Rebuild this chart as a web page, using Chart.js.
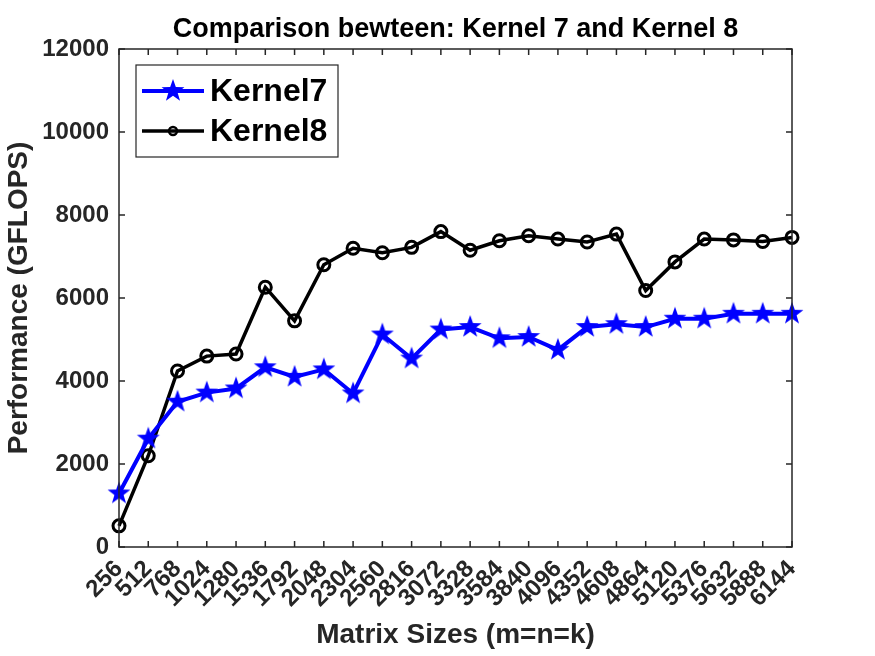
<!DOCTYPE html>
<html>
<head>
<meta charset="utf-8">
<title>Kernel 7 vs Kernel 8</title>
<script src="https://cdn.jsdelivr.net/npm/chart.js@4"></script>
<style>
  html, body { margin: 0; padding: 0; background: #fff; }
  #wrap { width: 875px; height: 656px; }
</style>
</head>
<body>
<div id="wrap"><canvas id="perfChart" width="875" height="656"></canvas></div>
<script>
// Data
const matrixSizes = ['256', '512', '768', '1024', '1280', '1536', '1792', '2048', '2304', '2560', '2816', '3072',
    '3328', '3584', '3840', '4096', '4352', '4608', '4864', '5120', '5376', '5632', '5888', '6144'];
const kernel7 = [1290, 2610, 3500, 3720, 3820, 4330, 4100, 4280, 3700, 5120, 4540, 5240,
    5300, 5030, 5060, 4750, 5300, 5370, 5300, 5500, 5500, 5620, 5620, 5620];
const kernel8 = [510, 2200, 4240, 4600, 4650, 6260, 5450, 6800, 7200, 7090, 7220, 7600,
    7150, 7380, 7500, 7420, 7350, 7540, 6180, 6870, 7420, 7400, 7360, 7460];
const yTicks = [0, 2000, 4000, 6000, 8000, 10000, 12000];
const chartTitle = 'Comparison bewteen: Kernel 7 and Kernel 8';

const FONT = '"Liberation Sans", Arial, Helvetica, sans-serif';
const AXIS_COLOR = '#262626';

// filled five-point star, like the MATLAB pentagram marker
function makeStar(radius, color) {
    const size = Math.ceil(radius * 2 + 2);
    const c = document.createElement('canvas');
    c.width = size;
    c.height = size;
    const g = c.getContext('2d');
    const cx = size / 2, cy = size / 2;
    const inner = radius * 0.4;
    g.beginPath();
    for (let i = 0; i < 10; i++) {
        const r = i % 2 === 0 ? radius : inner;
        const a = -Math.PI / 2 + i * Math.PI / 5;
        const px = cx + r * Math.cos(a);
        const py = cy + r * Math.sin(a);
        if (i === 0) g.moveTo(px, py); else g.lineTo(px, py);
    }
    g.closePath();
    g.fillStyle = color;
    g.fill();
    return c;
}
const starImg = makeStar(12, '#0000ff');

// Box around the plot with inward ticks on all four sides, title centred on the plot
const boxPlugin = {
    id: 'boxPlugin',
    afterDraw(chart) {
        const { ctx, chartArea: a, scales } = chart;
        ctx.save();
        ctx.strokeStyle = AXIS_COLOR;
        ctx.lineWidth = 1.5;
        ctx.strokeRect(a.left, a.top, a.right - a.left, a.bottom - a.top);
        ctx.beginPath();
        const tl = 6;
        scales.x.ticks.forEach((t, i) => {
            const px = scales.x.getPixelForTick(i);
            ctx.moveTo(px, a.bottom); ctx.lineTo(px, a.bottom - tl);
            ctx.moveTo(px, a.top); ctx.lineTo(px, a.top + tl);
        });
        scales.y.ticks.forEach((t, i) => {
            const py = scales.y.getPixelForTick(i);
            ctx.moveTo(a.left, py); ctx.lineTo(a.left + tl, py);
            ctx.moveTo(a.right, py); ctx.lineTo(a.right - tl, py);
        });
        ctx.stroke();

        ctx.fillStyle = '#000';
        ctx.font = 'bold 27px ' + FONT;
        ctx.textAlign = 'center';
        ctx.textBaseline = 'middle';
        ctx.fillText(chartTitle, (a.left + a.right) / 2, a.top - 19);
        ctx.restore();
    }
};

// MATLAB style legend in the upper left corner of the plot
const legendPlugin = {
    id: 'legendPlugin',
    afterDraw(chart) {
        const { ctx, chartArea: a } = chart;
        const x0 = a.left + 17, y0 = a.top + 16;
        const w = 202, h = 92;
        ctx.save();
        ctx.fillStyle = '#fff';
        ctx.fillRect(x0, y0, w, h);
        ctx.strokeStyle = AXIS_COLOR;
        ctx.lineWidth = 1.2;
        ctx.strokeRect(x0, y0, w, h);
        ctx.font = 'bold 32px ' + FONT;
        ctx.textBaseline = 'middle';
        chart.data.datasets.forEach((ds, i) => {
            const y = y0 + 26 + i * 40;
            ctx.strokeStyle = ds.borderColor;
            ctx.lineWidth = ds.borderWidth;
            ctx.beginPath();
            ctx.moveTo(x0 + 6, y);
            ctx.lineTo(x0 + 68, y);
            ctx.stroke();
            const mx = x0 + 37;
            if (i === 0) {
                ctx.drawImage(starImg, mx - starImg.width / 2, y - starImg.height / 2);
            } else {
                ctx.lineWidth = 2.5;
                ctx.beginPath();
                ctx.arc(mx, y, 4, 0, Math.PI * 2);
                ctx.stroke();
            }
            ctx.fillStyle = '#000';
            ctx.fillText(ds.label, x0 + 74, y + 1);
        });
        ctx.restore();
    }
};

const ctx = document.getElementById('perfChart').getContext('2d');
new Chart(ctx, {
    type: 'line',
    data: {
        labels: matrixSizes,
        datasets: [
            {
                label: 'Kernel7',
                data: kernel7,
                borderColor: '#0000ff',
                backgroundColor: '#0000ff',
                borderWidth: 4,
                pointStyle: starImg,
                pointRadius: 11,
                tension: 0
            },
            {
                label: 'Kernel8',
                data: kernel8,
                borderColor: '#000000',
                backgroundColor: 'rgba(0,0,0,0)',
                borderWidth: 3.5,
                pointStyle: 'circle',
                pointRadius: 6,
                pointBorderWidth: 3,
                tension: 0
            }
        ]
    },
    options: {
        responsive: false,
        animation: false,
        layout: { padding: { left: 0, right: 83, top: 49, bottom: 0 } },
        plugins: {
            legend: { display: false },
            tooltip: { enabled: false },
            title: { display: false }
        },
        scales: {
            x: {
                offset: false,
                grid: { display: false, drawTicks: false },
                border: { display: false },
                ticks: {
                    autoSkip: false,
                    maxRotation: 45,
                    minRotation: 45,
                    padding: 8,
                    color: AXIS_COLOR,
                    font: { family: FONT, size: 24, weight: 'bold' }
                },
                title: {
                    display: true,
                    text: 'Matrix Sizes (m=n=k)',
                    color: AXIS_COLOR,
                    font: { family: FONT, size: 28, weight: 'bold' },
                    padding: { top: 0, bottom: 4 }
                },
                afterFit(scale) { scale.height = 109; scale.paddingLeft = 0; scale.paddingRight = 0; }
            },
            y: {
                min: 0,
                max: 12000,
                grid: { display: false, drawTicks: false },
                border: { display: false },
                afterBuildTicks(scale) { scale.ticks = yTicks.map(v => ({ value: v })); },
                ticks: {
                    padding: 10,
                    color: AXIS_COLOR,
                    font: { family: FONT, size: 24, weight: 'bold' },
                    callback: value => String(value)
                },
                title: {
                    display: true,
                    text: 'Performance (GFLOPS)',
                    color: AXIS_COLOR,
                    font: { family: FONT, size: 28, weight: 'bold' },
                    padding: { top: 2, bottom: 0 }
                },
                afterFit(scale) { scale.width = 119; }
            }
        }
    },
    plugins: [boxPlugin, legendPlugin]
});
</script>
</body>
</html>
